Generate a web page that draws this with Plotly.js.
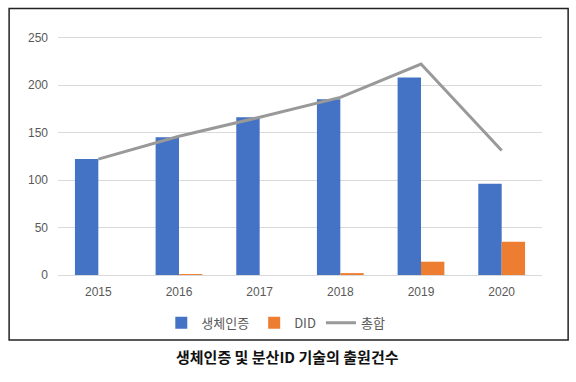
<!DOCTYPE html>
<html><head><meta charset="utf-8">
<script src="https://cdn.plot.ly/plotly-3.0.1.min.js"></script>
<style>html,body{margin:0;padding:0;background:#fff;}#chart{width:576px;height:382px;}</style>
</head><body><div id="chart"></div>
<script>
const years = ['2015','2016','2017','2018','2019','2020'];
const bio = [122, 145, 166, 185, 208, 96];
const did = [0, 1, 0, 2, 14, 35];
const total = [122, 146, 166, 187, 222, 131];
const yTicks = [0, 50, 100, 150, 200, 250];

const traces = [
  {type:'bar', name:'생체인증', x:years, y:bio, marker:{color:'#4472C4'}},
  {type:'bar', name:'DID', x:years, y:did, marker:{color:'#ED7D31'}},
  {type:'scatter', mode:'lines', name:'총합', x:years, y:total, line:{color:'#999999', width:3}}
];
const layout = {
  width:576, height:382,
  margin:{l:58, r:34, t:27.5, b:107},
  paper_bgcolor:'#fff', plot_bgcolor:'#fff',
  barmode:'group', bargap:0.42, bargroupgap:0,
  font:{family:'Liberation Sans, Noto Sans CJK KR, sans-serif', size:12, color:'#595959'},
  xaxis:{type:'category', showgrid:false, ticks:'', showline:false, zeroline:false,
         tickfont:{size:12, color:'#595959'}, ticklabelstandoff:8},
  yaxis:{range:[0,260], tickvals:yTicks, ticktext:yTicks.map(String), showgrid:true, gridcolor:'#d9d9d9', gridwidth:1,
         zeroline:true, zerolinecolor:'#d9d9d9', zerolinewidth:1, showline:false, ticks:'',
         tickfont:{size:12, color:'#595959'}, ticklabelstandoff:9},
  showlegend:true,
  legend:{orientation:'h', x:0.45, xanchor:'center', y:-0.194, yanchor:'middle',
          font:{family:'Noto Sans CJK KR, sans-serif', size:13, color:'#595959'}, traceorder:'normal'},
  shapes:[{type:'rect', xref:'paper', yref:'paper', x0:-0.101, x1:1.054, y0:-0.263, y1:1.079,
           line:{color:'#222', width:1.5}, fillcolor:'rgba(0,0,0,0)'}],
  annotations:[{xref:'paper', yref:'paper', x:0.475, y:-0.331, xanchor:'center', yanchor:'middle',
                showarrow:false, text:'<b>생체인증 및 분산ID 기술의 출원건수</b>',
                font:{family:'Noto Sans CJK KR, sans-serif', size:15, color:'#111'}}]
};
Plotly.newPlot('chart', traces, layout, {displayModeBar:false, staticPlot:true});
</script></body></html>
